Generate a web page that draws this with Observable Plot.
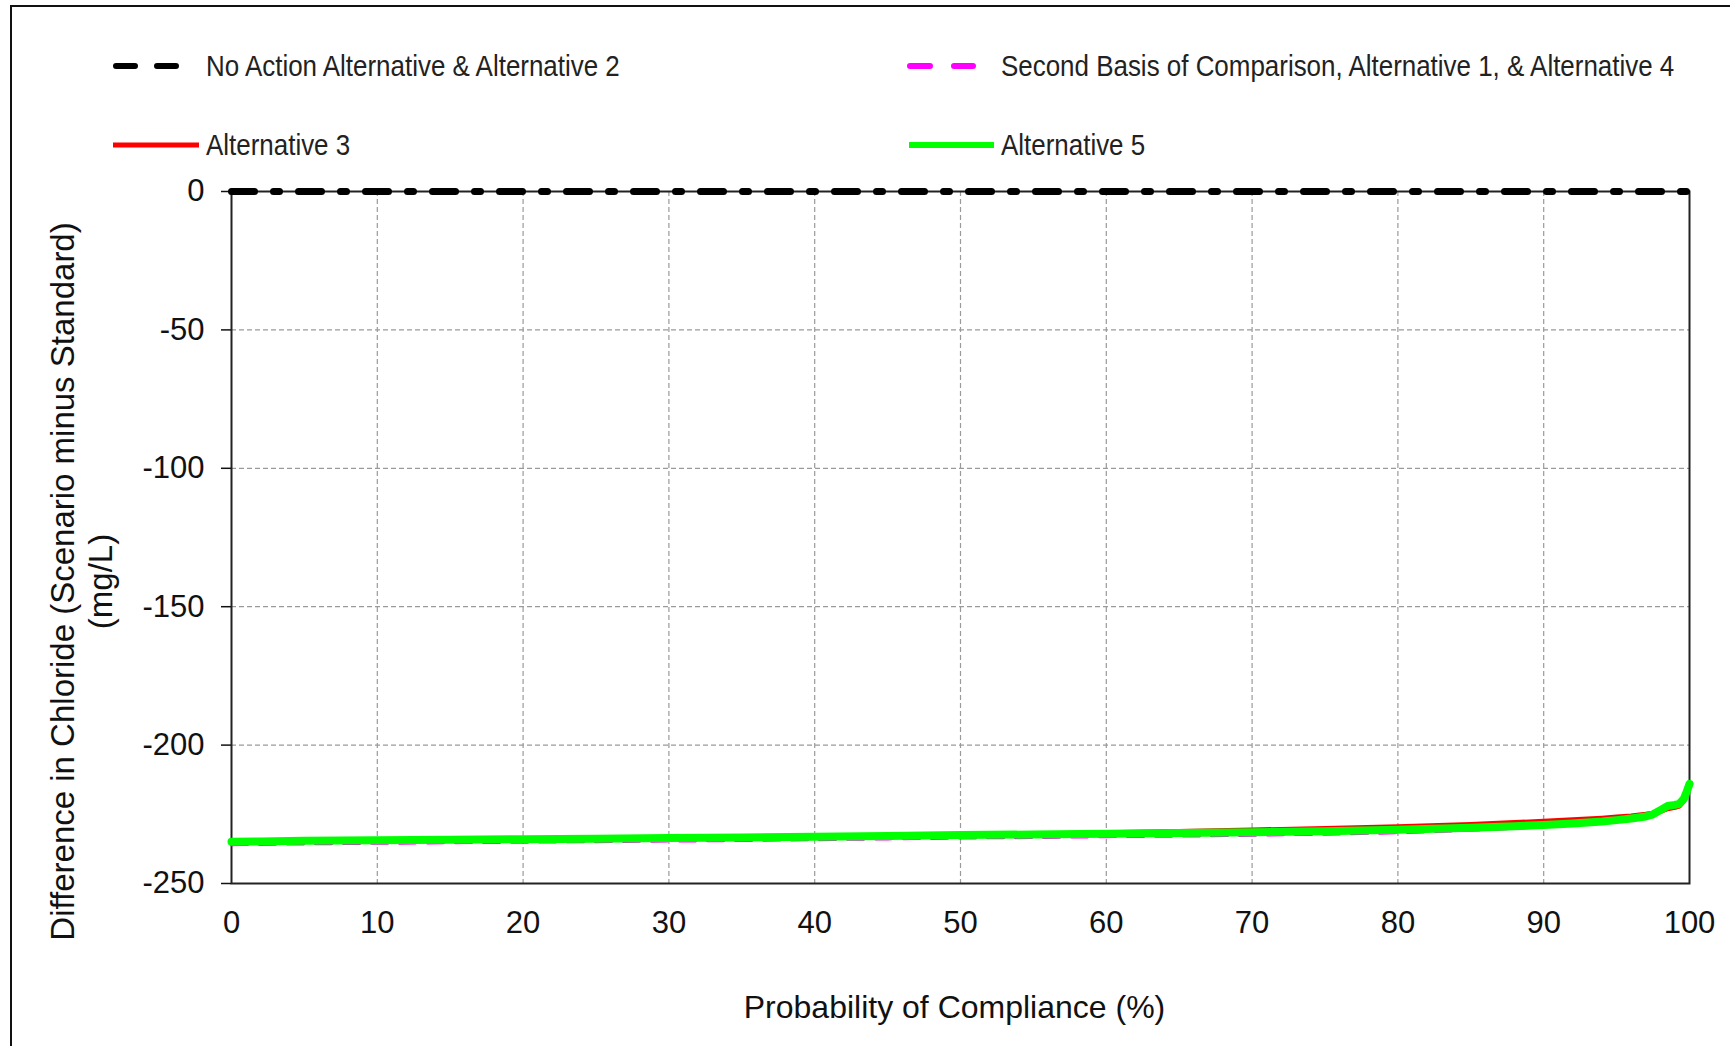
<!DOCTYPE html>
<html>
<head>
<meta charset="utf-8">
<script src="https://cdn.jsdelivr.net/npm/d3@7"></script>
<script src="https://cdn.jsdelivr.net/npm/@observablehq/plot@0.6"></script>
<style>
  html, body { margin: 0; padding: 0; background: #fff; overflow: hidden; }
  #wrap { position: relative; width: 1730px; height: 1046px; font-family: "Liberation Sans", Arial, sans-serif; }
  #border { position: absolute; left: 10px; top: 5px; width: 1800px; height: 1200px; border: 2px solid #111; box-sizing: border-box; pointer-events: none; }
  svg { display: block; }
</style>
</head>
<body>
<div id="wrap"><div id="border"></div></div>
<script>
// ---- Data ----
const probability = [0, 2, 5, 10, 15, 20, 25, 30, 35, 40, 45, 50, 55, 60, 65, 70, 75, 80, 85, 88, 90, 92, 94, 95, 96, 97, 97.5, 98, 98.5, 99, 99.3, 99.6, 99.8, 100];

const noActionAlt2 = [0, 0, 0, 0, 0, 0, 0, 0, 0, 0, 0, 0, 0, 0, 0, 0, 0, 0, 0, 0, 0, 0, 0, 0, 0, 0, 0, 0, 0, 0, 0, 0, 0, 0];

const secondBasisAlt1Alt4 = [-235.8, -235.7, -235.5, -235.3, -235.1, -234.9, -234.7, -234.5, -234.3, -234.0, -233.7, -233.4, -233.2, -232.9, -232.7, -232.4, -232.0, -231.5, -230.6, -229.9, -229.4, -228.7, -228.0, -227.5, -226.9, -226.1, -225.4, -224.0, -222.8, -222.3, -221.8, -220.0, -217.5, -214.5];

const alternative3 = [-234.9, -234.8, -234.6, -234.4, -234.2, -234.0, -233.8, -233.6, -233.3, -233.0, -232.7, -232.4, -232.1, -231.7, -231.2, -230.7, -230.1, -229.5, -228.7, -228.0, -227.5, -227.0, -226.4, -226.0, -225.6, -225.0, -224.6, -224.0, -223.0, -222.5, -222.0, -220.2, -217.5, -214.5];

const alternative5 = [-234.9, -234.8, -234.6, -234.4, -234.2, -234.0, -233.8, -233.6, -233.4, -233.1, -232.8, -232.5, -232.3, -232.0, -231.8, -231.5, -231.1, -230.6, -229.9, -229.3, -228.9, -228.3, -227.6, -227.1, -226.5, -225.8, -225.0, -223.5, -222.0, -221.6, -221.2, -219.5, -217.0, -214.0];

const xTicks = [0, 10, 20, 30, 40, 50, 60, 70, 80, 90, 100];
const yTicks = [0, -50, -100, -150, -200, -250];

const seriesNames = [
  "No Action Alternative & Alternative 2",
  "Second Basis of Comparison, Alternative 1, & Alternative 4",
  "Alternative 3",
  "Alternative 5"
];
const xLabel = "Probability of Compliance (%)";
const yLabel = "Difference in Chloride (Scenario minus Standard)\n(mg/L)";

// ---- Legend (above the plot SVG) ----
const FONT = "'Liberation Sans', Arial, sans-serif";
const wrap = document.getElementById("wrap");
const legend = d3.create("svg").attr("width", 1730).attr("height", 170)
  .style("font-family", FONT);

const legendItems = [
  {name: seriesNames[0], x1: 116, x2: 177, y: 66, stroke: "#000", width: 6, dash: "19,22", cap: "round", tx: 206},
  {name: seriesNames[1], x1: 910, x2: 973, y: 66, stroke: "#ff00ff", width: 6, dash: "20,24", cap: "round", tx: 1001},
  {name: seriesNames[2], x1: 113, x2: 199, y: 145, stroke: "#ff0000", width: 5, dash: null, cap: "butt", tx: 206},
  {name: seriesNames[3], x1: 909, x2: 994, y: 145, stroke: "#00ff00", width: 6, dash: null, cap: "butt", tx: 1001}
];
for (const it of legendItems) {
  legend.append("line")
    .attr("x1", it.x1).attr("x2", it.x2).attr("y1", it.y).attr("y2", it.y)
    .attr("stroke", it.stroke).attr("stroke-width", it.width)
    .attr("stroke-linecap", it.cap)
    .attr("stroke-dasharray", it.dash);
  legend.append("g")
    .attr("transform", `translate(${it.tx},${it.y + 10}) scale(0.895,1)`)
    .append("text")
    .attr("font-size", 29)
    .attr("fill", "#222")
    .text(it.name);
}
wrap.appendChild(legend.node());

// ---- Plot ----
const chart = Plot.plot({
  width: 1730,
  height: 876,
  marginTop: 21,
  marginBottom: 163,
  marginLeft: 231,
  marginRight: 41,
  style: {fontFamily: FONT, fontSize: "31px", color: "#111", background: "transparent", overflow: "visible"},
  x: {domain: [0, 100]},
  y: {domain: [-250, 0]},
  marks: [
    Plot.gridX(xTicks.slice(1, -1), {stroke: "#9a9a9a", strokeOpacity: 1, strokeWidth: 1.2, strokeDasharray: "5,3"}),
    Plot.gridY(yTicks.slice(1, -1), {stroke: "#9a9a9a", strokeOpacity: 1, strokeWidth: 1.2, strokeDasharray: "5,3"}),
    Plot.frame({stroke: "#222", strokeWidth: 2}),
    Plot.axisY(yTicks, {tickSize: 10, tickPadding: 17, fontSize: 31, label: null, stroke: "#111", strokeWidth: 1.5, tickFormat: d => String(d)}),
    Plot.axisX(xTicks, {tickSize: 0, tickPadding: 27, fontSize: 31, label: null, tickFormat: d => String(d)}),
    Plot.line(probability, {x: probability, y: noActionAlt2, stroke: "#000", strokeWidth: 7, strokeDasharray: "23,19,6,19"}),
    Plot.line(probability, {x: probability, y: secondBasisAlt1Alt4, stroke: "#ff00ff", strokeWidth: 4, strokeDasharray: "16,12"}),
    Plot.line(probability, {x: probability, y: alternative3, stroke: "#ff0000", strokeWidth: 5}),
    Plot.line(probability, {x: probability, y: alternative5, stroke: "#00ff00", strokeWidth: 8}),
    Plot.text([yLabel], {frameAnchor: "left", textAnchor: "middle", rotate: -90, dx: -151, dy: 44, fontSize: 33, lineHeight: 1.17, fill: "#111"}),
    Plot.text([xLabel], {frameAnchor: "bottom", textAnchor: "middle", dx: -6, dy: 134, fontSize: 32, fill: "#111"})
  ]
});
wrap.appendChild(chart);
</script>
</body>
</html>
